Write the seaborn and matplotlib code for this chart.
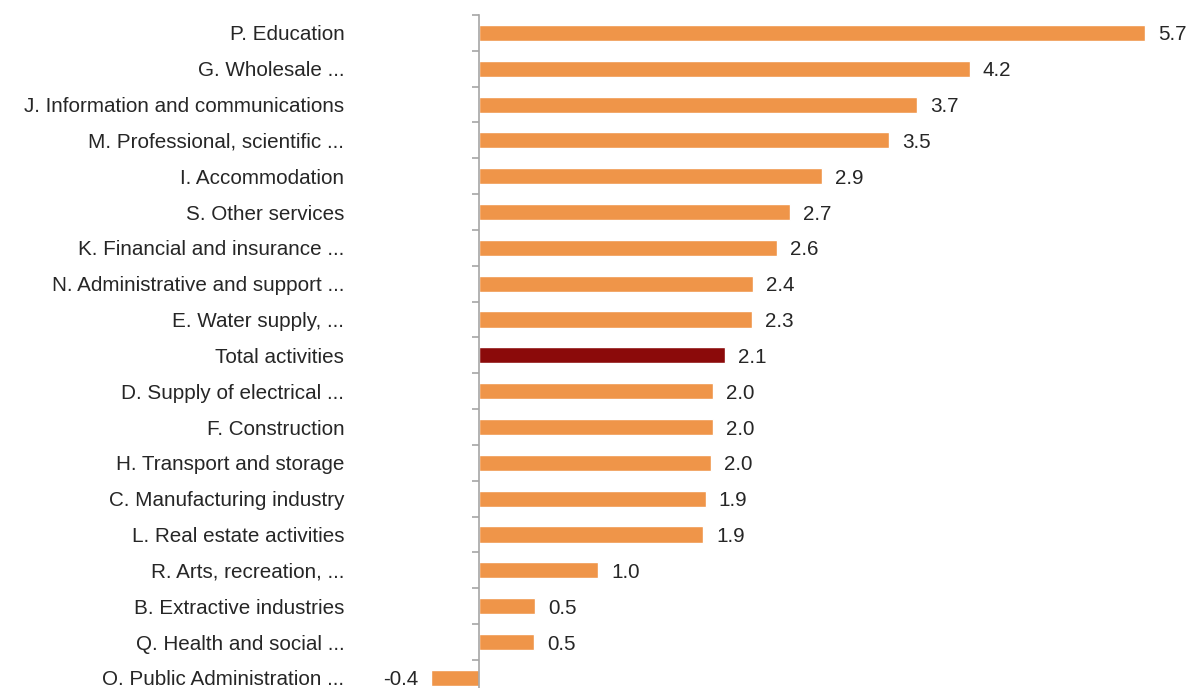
import matplotlib
matplotlib.use("Agg")
import matplotlib.pyplot as plt
import seaborn as sns
import numpy as np

categories = [
    "P. Education", "G. Wholesale ...", "J. Information and communications",
    "M. Professional, scientific ...", "I. Accommodation", "S. Other services",
    "K. Financial and insurance ...", "N. Administrative and support ...",
    "E. Water supply, ...", "Total activities", "D. Supply of electrical ...",
    "F. Construction", "H. Transport and storage", "C. Manufacturing industry",
    "L. Real estate activities", "R. Arts, recreation, ...",
    "B. Extractive industries", "Q. Health and social ...",
    "O. Public Administration ...",
]
values = [5.7, 4.2, 3.75, 3.51, 2.94, 2.66, 2.55, 2.35, 2.34, 2.11, 2.0, 2.0,
          1.99, 1.94, 1.92, 1.02, 0.48, 0.47, -0.41]
value_labels = ["5.7", "4.2", "3.7", "3.5", "2.9", "2.7", "2.6", "2.4", "2.3",
                "2.1", "2.0", "2.0", "2.0", "1.9", "1.9", "1.0", "0.5", "0.5",
                "-0.4"]

orange = "#EF9549"
darkred = "#8B0A0A"
colors = [darkred if c == "Total activities" else orange for c in categories]

sns.set_theme(style="white")
plt.rcParams["font.family"] = ["Liberation Sans", "DejaVu Sans"]

W, H = 1192, 688
fig = plt.figure(figsize=(W / 100, H / 100), dpi=100)
ax_left_px, ax_right_px = 380, 1192
top_px = 15
ax = fig.add_axes([ax_left_px / W, 0, (ax_right_px - ax_left_px) / W, 1 - top_px / H])

sns.barplot(x=values, y=categories, hue=categories, palette=colors,
            legend=False, width=0.45, orient="h", ax=ax, saturation=1)

ppu = 116.8
zero_px = 479
row_px = 35.83
n = len(categories)
fs = 14.9
txt_color = "#262626"

for s in ["top", "right", "bottom"]:
    ax.spines[s].set_visible(False)
ax.spines["left"].set_position(("data", 0))
ax.spines["left"].set_color("#A6A6A6")
ax.spines["left"].set_linewidth(1.2)

ax.set_xticks([])
ax.set_yticks(np.arange(n))
ax.set_yticklabels(categories)
ax.set_yticks(np.arange(n + 1) - 0.5, minor=True)
ax.tick_params(axis="y", which="major", length=0, pad=97, labelsize=fs,
               labelcolor=txt_color)
ax.tick_params(axis="y", which="minor", length=5, width=1.2, color="#A6A6A6",
               left=True)
for t in ax.get_yticklabels():
    t.set_verticalalignment("center_baseline")
ax.set_xlabel("")
ax.set_ylabel("")

off = 13 / ppu
for i, (v, lab) in enumerate(zip(values, value_labels)):
    if v >= 0:
        ax.text(v + off, i, lab, va="center_baseline", ha="left", fontsize=fs,
                color=txt_color)
    else:
        ax.text(v - off, i, lab, va="center_baseline", ha="right", fontsize=fs,
                color=txt_color)

ax.set_xlim((ax_left_px - zero_px) / ppu, (ax_right_px - zero_px) / ppu)
ax.set_ylim((H - top_px) / row_px - 0.5, -0.5)

fig.savefig("out.png", dpi=100)
